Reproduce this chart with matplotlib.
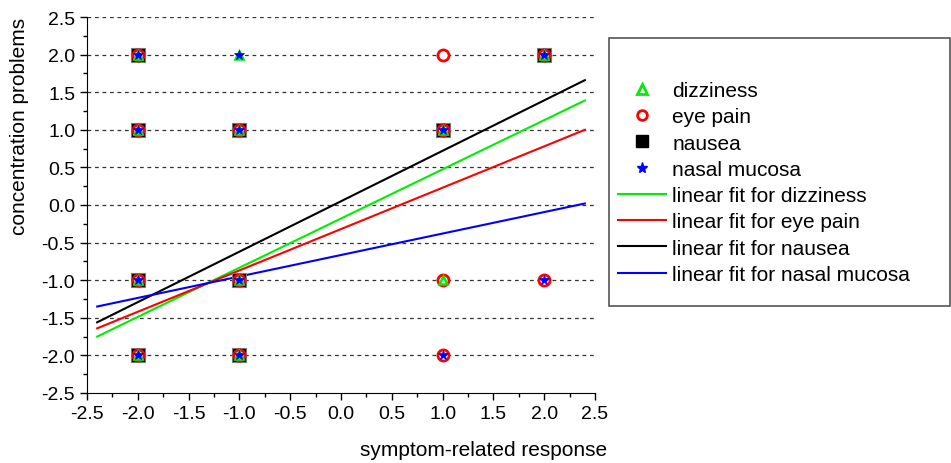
import matplotlib.pyplot as plt
from matplotlib.lines import Line2D
from matplotlib.patches import Rectangle
from matplotlib.ticker import MultipleLocator

plt.rcParams['font.family'] = ['Liberation Sans', 'DejaVu Sans']

# dados dos sintomas (x = resposta, y = concentração)
nausea_x = [-2, 2, -2, -1, 1, -2, -1, -2, -1]
nausea_y = [2, 2, 1, 1, 1, -1, -1, -2, -2]

eye_x = [-2, 1, 2, -2, -1, 1, -2, -1, 1, 2, -2, -1, 1]
eye_y = [2, 2, 2, 1, 1, 1, -1, -1, -1, -1, -2, -2, -2]

dizzy_x = [-2, -1, 2, -2, -1, 1, -2, -1, 1, -2, -1]
dizzy_y = [2, 2, 2, 1, 1, 1, -1, -1, -1, -2, -2]

nasal_x = [-2, -1, 2, -2, -1, 1, -2, -1, 2, -2, -1, 1]
nasal_y = [2, 2, 2, 1, 1, 1, -1, -1, -1, -2, -2, -2]

# retas ajustadas: x inicial/final e y nas extremidades
fit_x = [-2.4, 2.4]
fit_dizzy = [-1.75, 1.39]
fit_eye = [-1.64, 1.0]
fit_nausea = [-1.56, 1.66]
fit_nasal = [-1.35, 0.02]

fig = plt.figure(figsize=(9.51, 4.64), dpi=100)
ax = fig.add_axes([87 / 951, 1 - 394 / 464, 508 / 951, 376 / 464])

for yv in [-2.0, -1.5, -1.0, -0.5, 0.0, 0.5, 1.0, 1.5, 2.0, 2.5]:
    ax.axhline(yv, color='#333333', lw=0.9, ls=(0, (3, 3)), zorder=1)

ax.plot(fit_x, fit_dizzy, color='#00ee00', lw=1.5, zorder=2)
ax.plot(fit_x, fit_eye, color='#ff0000', lw=1.5, zorder=2)
ax.plot(fit_x, fit_nausea, color='black', lw=1.5, zorder=2)
ax.plot(fit_x, fit_nasal, color='#0000ff', lw=1.5, zorder=2)

ax.plot(nausea_x, nausea_y, ls='none', marker='s', ms=10, mfc='black', mec='#777777', mew=0.8, zorder=3)
ax.plot(eye_x, eye_y, ls='none', marker='o', ms=8, mfc='white', mec='#ff0000', mew=2, zorder=4)
ax.plot(dizzy_x, dizzy_y, ls='none', marker='^', ms=6, mfc='white', mec='#00ee00', mew=1.8, zorder=5)
ax.plot(nasal_x, nasal_y, ls='none', marker='*', ms=7, mfc='#0000ff', mec='#0000ff', mew=0.5, zorder=6)

ax.set_xlim(-2.5, 2.5)
ax.set_ylim(-2.5, 2.5)
ax.xaxis.set_major_locator(MultipleLocator(0.5))
ax.xaxis.set_minor_locator(MultipleLocator(0.25))
ax.yaxis.set_major_locator(MultipleLocator(0.5))
ax.yaxis.set_minor_locator(MultipleLocator(0.25))
ax.xaxis.set_major_formatter(lambda v, p: f'{v:.1f}')
ax.yaxis.set_major_formatter(lambda v, p: f'{v:.1f}')
ax.tick_params(which='major', direction='out', length=5, width=1, labelsize=14)
ax.tick_params(which='minor', direction='out', length=3, width=1)
ax.spines['top'].set_visible(False)
ax.spines['right'].set_visible(False)

fig.text(607 / 951, 1 - 451 / 464, 'symptom-related response', ha='right', va='center', fontsize=15)
fig.text(20 / 951, 1 - 18 / 464, 'concentration problems', rotation=90, ha='center', va='top', fontsize=15)

# caixa da legenda
fig.patches.append(Rectangle((609 / 951, 1 - 307 / 464), 341 / 951, 268 / 464,
                             transform=fig.transFigure, fill=False,
                             edgecolor='#555555', lw=1.2))

handles = [
    Line2D([], [], ls='none', marker='^', ms=7, mfc='white', mec='#00ee00', mew=2),
    Line2D([], [], ls='none', marker='o', ms=7, mfc='white', mec='#ff0000', mew=2),
    Line2D([], [], ls='none', marker='s', ms=8, mfc='black', mec='black'),
    Line2D([], [], ls='none', marker='*', ms=8, mfc='#0000ff', mec='#0000ff'),
    Line2D([], [], color='#00ee00', lw=1.5),
    Line2D([], [], color='#ff0000', lw=1.5),
    Line2D([], [], color='black', lw=1.5),
    Line2D([], [], color='#0000ff', lw=1.5),
]
labels = ['dizziness', 'eye pain', 'nausea', 'nasal mucosa',
          'linear fit for dizziness', 'linear fit for eye pain',
          'linear fit for nausea', 'linear fit for nasal mucosa']
fig.legend(handles, labels, loc='upper left', bbox_to_anchor=(618 / 951, 1 - 82 / 464),
           fontsize=15, frameon=False, handlelength=2.3,
           handletextpad=0.3, labelspacing=0.35, borderpad=0, borderaxespad=0)

fig.savefig('out.png', dpi=100)
